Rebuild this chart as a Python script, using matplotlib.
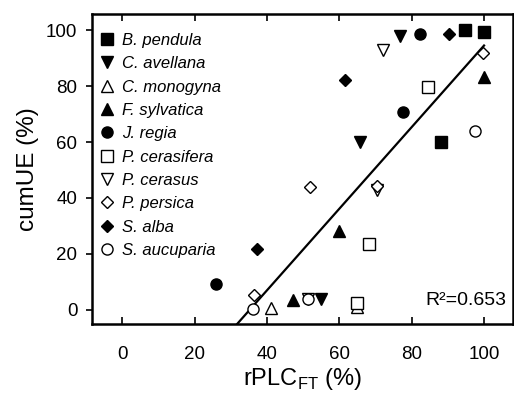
import numpy as np
import matplotlib
matplotlib.use('Agg')
import matplotlib.pyplot as plt

matplotlib.rcParams['font.family'] = ['Liberation Sans', 'DejaVu Sans']
matplotlib.rcParams['mathtext.fontset'] = 'custom'
matplotlib.rcParams['mathtext.rm'] = 'Liberation Sans'

# ---------- 데이터 ----------
species = ['B. pendula', 'C. avellana', 'C. monogyna', 'F. sylvatica', 'J. regia',
           'P. cerasifera', 'P. cerasus', 'P. persica', 'S. alba', 'S. aucuparia']
markers = ['s', 'v', '^', '^', 'o', 's', 'v', 'D', 'D', 'o']
filled = [True, True, False, True, True, False, False, False, True, False]

rplc = [
    [94.6, 100.0, 88.1],        # B. pendula
    [76.9, 65.6, 54.9],         # C. avellana
    [41.0, 64.8],               # C. monogyna
    [100.1, 60.0, 47.3],        # F. sylvatica
    [82.2, 77.7, 25.9],         # J. regia
    [84.5, 68.1, 64.8],         # P. cerasifera
    [72.2, 70.5, 51.3],         # P. cerasus
    [99.8, 51.9, 70.5, 36.4],   # P. persica
    [90.4, 61.6, 37.3],         # S. alba
    [97.5, 36.2, 51.3],         # S. aucuparia
]
cumue = [
    [100.2, 99.4, 60.1],
    [98.0, 59.9, 3.8],
    [0.6, 1.1],
    [83.1, 28.2, 3.6],
    [98.6, 70.6, 9.2],
    [79.8, 23.6, 2.4],
    [92.9, 42.9, 3.8],
    [91.9, 43.8, 44.4, 5.4],
    [98.7, 82.1, 21.8],
    [63.9, 0.2, 3.8],
]

# 회귀선 (기울기, 절편), R²
slope, intercept = 1.458, -51.3
r2 = 0.653

# ---------- 그림 ----------
fig = plt.figure(figsize=(5.14, 3.94), dpi=100)
ax = fig.add_axes([0.179, 0.178, 0.819, 0.786])
xmin, xmax = -8.4, 108
ymin, ymax = -5.0, 105.7

x0 = (ymin - intercept) / slope
xl = np.array([x0, 100.0])
ax.plot(xl, slope * xl + intercept, color='black', lw=1.6, zorder=2)

for name, m, f, xs, ys in zip(species, markers, filled, rplc, cumue):
    ms = 6.6 if m == 'D' else 8.0
    ax.plot(xs, ys, linestyle='none', marker=m, ms=ms,
            mfc='black' if f else 'white', mec='black', mew=1.0,
            label=name, zorder=3)

ax.set_xlim(xmin, xmax)
ax.set_ylim(ymin, ymax)
ax.set_xticks([0, 20, 40, 60, 80, 100])
ax.set_yticks([0, 20, 40, 60, 80, 100])
ax.tick_params(axis='x', direction='in', top=True, length=5, width=1.2,
               labelsize=13.5, pad=16)
ax.tick_params(axis='y', direction='out', length=4.5, width=1.2, labelsize=13.5, pad=6)
for s in ax.spines.values():
    s.set_linewidth(1.8)

ax.set_xlabel('rPLC$_{\\mathrm{FT}}$ (%)', fontsize=17, labelpad=2)
ax.set_ylabel('cumUE (%)', fontsize=17.5, labelpad=5)

ax.text(0.985, 0.061, f'R\u00b2={r2:.3f}', transform=ax.transAxes,
        ha='right', va='baseline', fontsize=14)

leg = ax.legend(loc='upper left', bbox_to_anchor=(-0.005, 0.972), frameon=False,
                prop={'style': 'italic', 'size': 12}, handlelength=0.8,
                handletextpad=0.55, labelspacing=0.50, borderaxespad=0.2)

fig.savefig('out.png', dpi=100)
